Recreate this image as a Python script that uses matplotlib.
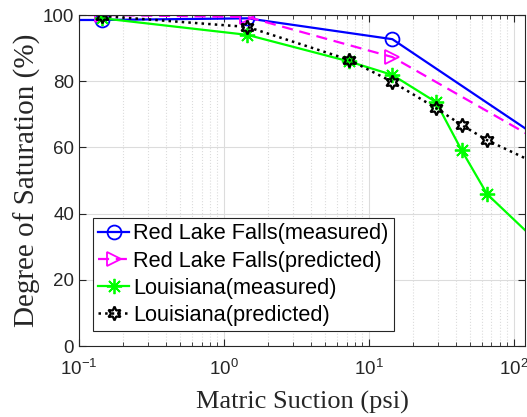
import numpy as np
import matplotlib
matplotlib.use('Agg')
import matplotlib.pyplot as plt
from matplotlib.ticker import LogLocator, NullFormatter

plt.rcParams['font.family'] = 'Liberation Sans'
plt.rcParams['mathtext.default'] = 'regular'

# suction values in psi (1, 10, 100, 1000 kPa ...)
rlf_x = [0.0145, 0.145, 1.45, 14.5, 145]
rlf_measured = [98.5, 98.5, 99.0, 92.7, 63.3]
rlf_predicted = [100.0, 100.0, 99.4, 87.3, 62.3]

la_x = [0.145, 1.45, 7.25, 14.5, 29.0, 43.5, 65.3, 145]
la_measured = [99.0, 94.0, 86.0, 81.9, 73.7, 59.2, 45.9, 31.5]
la_predicted = [99.7, 96.4, 86.5, 79.8, 71.9, 66.8, 62.2, 55.0]

fig = plt.figure(figsize=(5.27, 4.17), dpi=100)
ax = fig.add_axes([0.150, 0.170, 0.846, 0.794])

ax.semilogx(rlf_x, rlf_measured, '-o', color='blue', lw=1.6, ms=10,
            mfc='none', mew=1.3, label='Red Lake Falls(measured)')
ax.semilogx(rlf_x, rlf_predicted, '--', marker='>', color='magenta', lw=1.6, ms=10,
            mfc='none', mew=1.3, dashes=(5, 3), label='Red Lake Falls(predicted)')
ax.semilogx(la_x, la_measured, '-', marker=(8, 2, 0), color='#00ff00', lw=1.6, ms=11,
            mew=1.3, label='Louisiana(measured)')
ax.semilogx(la_x, la_predicted, ':', marker=(6, 1, 0), color='black', lw=1.8, ms=10,
            mfc='none', mew=1.6, label='Louisiana(predicted)')

ax.set_xlim(0.1, 119)
ax.set_ylim(0, 100)
ax.set_yticks([0, 20, 40, 60, 80, 100])
ax.xaxis.set_major_locator(LogLocator(base=10, numticks=10))
ax.xaxis.set_minor_locator(LogLocator(base=10, subs=np.arange(2, 10), numticks=20))
ax.xaxis.set_minor_formatter(NullFormatter())

ax.grid(True, which='major', color='#dcdcdc', lw=0.8)
ax.grid(True, which='minor', axis='x', color='#dcdcdc', lw=0.8, ls=':')
ax.set_axisbelow(True)

ax.tick_params(which='both', direction='in', top=True, right=True, colors='#262626',
               labelsize=13.5, labelcolor='#262626')
ax.tick_params(which='major', length=5)
ax.tick_params(which='minor', length=3)
ax.tick_params(axis='x', pad=9)
for s in ax.spines.values():
    s.set_color('#262626')
    s.set_linewidth(0.8)

ax.set_xlabel('Matric Suction (psi)', family='Liberation Serif', fontsize=19,
              color='#262626', labelpad=9)
ax.set_ylabel('Degree of Saturation (%)', family='Liberation Serif', fontsize=21,
              color='#262626', labelpad=1)

leg = ax.legend(loc='lower left', bbox_to_anchor=(0.031, 0.045), borderaxespad=0,
                fontsize=15.7, fancybox=False, edgecolor='#262626', framealpha=1,
                handlelength=1.4, handletextpad=0.2, borderpad=0.25, labelspacing=0.28)
leg.get_frame().set_linewidth(0.8)

plt.savefig('out.png', dpi=100)
